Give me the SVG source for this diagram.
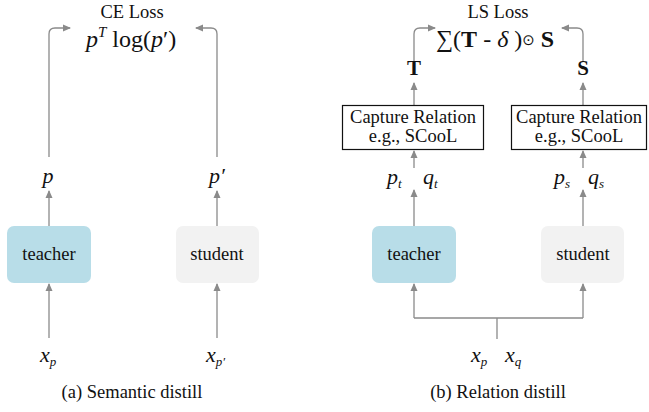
<svg xmlns="http://www.w3.org/2000/svg" width="649" height="412" viewBox="0 0 649 412">
<defs>
<marker id="ah" viewBox="0 0 8 8" refX="7" refY="4" markerWidth="8" markerHeight="8" markerUnits="userSpaceOnUse" orient="auto">
<path d="M0,0.5 L8,4 L0,7.5 Z" fill="#8a8a8a"/>
</marker>
<style>
text{font-family:"Liberation Serif","Times New Roman",serif;fill:#111;}
.t{font-size:18.5px;}
.m{font-size:22px;font-style:italic;}
.sub{font-size:13px;font-style:italic;}
.c{stroke:#8a8a8a;stroke-width:1.3;fill:none;}
.a{marker-end:url(#ah);}
</style>
</defs>
<rect width="649" height="412" fill="#fff"/>

<g id="connectors">
<!-- left panel -->
<path class="c a" d="M49,157 V34 Q49,28 55,28 H70"/>
<path class="c a" d="M217,157 V34 Q217,28 211,28 H196"/>
<path class="c a" d="M49,226 V191"/>
<path class="c a" d="M217,226 V191"/>
<path class="c a" d="M49,338 V284"/>
<path class="c a" d="M217,338 V284"/>
<!-- right panel -->
<path class="c a" d="M414,62 V34 Q414,28 420,28 H435"/>
<path class="c a" d="M583,62 V34 Q583,28 577,28 H562"/>
<path class="c a" d="M414,105 V83"/>
<path class="c a" d="M583,105 V83"/>
<path class="c a" d="M414,168 V151"/>
<path class="c a" d="M583,168 V151"/>
<path class="c a" d="M414,226 V190"/>
<path class="c a" d="M583,226 V190"/>
<path class="c" d="M414,318 H583 M497,318 V339"/>
<path class="c a" d="M414,318 V284"/>
<path class="c a" d="M583,318 V284"/>
</g>

<g id="ce-loss">
<text class="t" x="132" y="18" text-anchor="middle">CE Loss</text>
<text x="86" y="47" font-size="24"><tspan font-style="italic">p</tspan><tspan font-style="italic" font-size="15" dy="-10">T</tspan><tspan dy="10"> log(</tspan><tspan font-style="italic">p</tspan><tspan>′)</tspan></text>
</g>

<g id="ls-loss">
<text class="t" x="498" y="18" text-anchor="middle">LS Loss</text>
<text x="436" y="47" font-size="24"><tspan>∑(</tspan><tspan font-weight="bold">T</tspan><tspan> - </tspan><tspan font-style="italic">δ</tspan><tspan> )</tspan><tspan font-size="15" font-family="DejaVu Sans" dy="-2">⊙</tspan><tspan dy="2"> </tspan><tspan font-weight="bold">S</tspan></text>
</g>

<g id="label-p"><text class="m" x="48" y="183" text-anchor="middle">p</text></g>
<g id="label-p-prime"><text class="m" x="217" y="183" text-anchor="middle">p′</text></g>

<g id="teacher-a">
<rect x="7" y="226" width="84" height="57" rx="7" fill="#b8dde8"/>
<text class="t" x="49" y="260" text-anchor="middle">teacher</text>
</g>
<g id="student-a">
<rect x="176" y="226" width="83" height="57" rx="7" fill="#f2f2f2"/>
<text class="t" x="217" y="260" text-anchor="middle">student</text>
</g>

<g id="input-a-teacher"><text class="m" x="40" y="362">x<tspan class="sub" dy="4">p</tspan></text></g>
<g id="input-a-student"><text class="m" x="206" y="362">x<tspan class="sub" dy="4">p′</tspan></text></g>

<g id="T-label"><text x="414" y="75" font-size="21" font-weight="bold" text-anchor="middle">T</text></g>
<g id="S-label"><text x="583" y="75" font-size="21" font-weight="bold" text-anchor="middle">S</text></g>

<g id="capture-t">
<rect x="342.5" y="105.5" width="141" height="44" fill="#fff" stroke="#111" stroke-width="1.2"/>
<text class="t" x="413" y="123" text-anchor="middle">Capture Relation</text>
<text class="t" x="413" y="142" text-anchor="middle">e.g., SCooL</text>
</g>
<g id="capture-s">
<rect x="511.5" y="105.5" width="135" height="44" fill="#fff" stroke="#111" stroke-width="1.2"/>
<text class="t" x="579" y="123" text-anchor="middle">Capture Relation</text>
<text class="t" x="579" y="142" text-anchor="middle">e.g., SCooL</text>
</g>

<g id="label-pt-qt"><text class="m" x="387" y="184">p<tspan class="sub" dy="4">t</tspan><tspan dy="-4" x="423">q</tspan><tspan class="sub" dy="4">t</tspan></text></g>
<g id="label-ps-qs"><text class="m" x="554" y="184">p<tspan class="sub" dy="4">s</tspan><tspan dy="-4" x="588">q</tspan><tspan class="sub" dy="4">s</tspan></text></g>

<g id="teacher-b">
<rect x="372" y="226" width="84" height="57" rx="7" fill="#b8dde8"/>
<text class="t" x="414" y="260" text-anchor="middle">teacher</text>
</g>
<g id="student-b">
<rect x="541" y="226" width="83" height="57" rx="7" fill="#f2f2f2"/>
<text class="t" x="583" y="260" text-anchor="middle">student</text>
</g>

<g id="input-b"><text class="m" x="471" y="362">x<tspan class="sub" dy="4">p</tspan><tspan dy="-4" x="505">x</tspan><tspan class="sub" dy="4">q</tspan></text></g>

<g id="captions">
<text class="t" x="132" y="398" text-anchor="middle">(a) Semantic distill</text>
<text class="t" x="498" y="398" text-anchor="middle">(b) Relation distill</text>
</g>
</svg>
